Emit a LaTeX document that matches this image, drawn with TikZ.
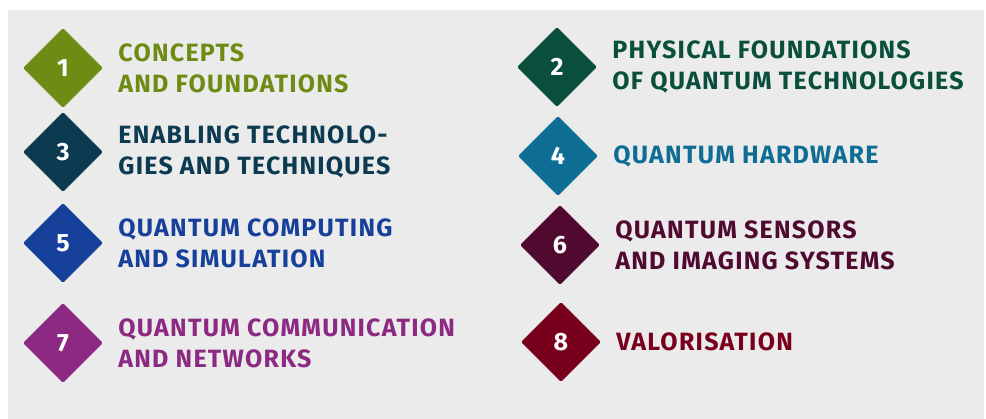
\documentclass[tikz,border=0pt]{standalone}
\usepackage{fontspec}
\setmainfont{Fira Sans}[LetterSpace=5.0]
\usetikzlibrary{shapes.geometric,positioning}

\definecolor{bggray}{HTML}{EBEBEB}
\definecolor{cOne}{HTML}{6E8B13}
\definecolor{cTwo}{HTML}{0A4F3C}
\definecolor{cThree}{HTML}{0B3A51}
\definecolor{cFour}{HTML}{0E6D95}
\definecolor{cFive}{HTML}{17409A}
\definecolor{cSix}{HTML}{500A2F}
\definecolor{cSeven}{HTML}{8C2A83}
\definecolor{cEight}{HTML}{78001C}

\begin{document}
\begin{tikzpicture}[x=1pt,y=-1pt,
  box/.style={diamond,fill=#1,minimum size=80pt,inner sep=0pt,rounded corners=1.5pt,
    text=white,font=\bfseries\fontsize{25}{30}\selectfont},
  topic/.style={text=#1,align=left,inner sep=0pt,
    font=\bfseries\fontsize{25}{31}\selectfont}]
\useasboundingbox (0,0) rectangle (986,419);
\fill[bggray] (8,10) rectangle (984,419);
% left column
\node[box=cOne]   (d1) at (63,68)  {1};
\node[box=cThree] (d3) at (63,152) {3};
\node[box=cFive]  (d5) at (63,243) {5};
\node[box=cSeven] (d7) at (63,343) {7};
% right column
\node[box=cTwo]   (d2) at (557,67)  {2};
\node[box=cFour]  (d4) at (558,156) {4};
\node[box=cSix]   (d6) at (560,245) {6};
\node[box=cEight] (d8) at (561,342) {8};
% labels
\node[topic=cOne,right=15pt of d1]   (t1) {CONCEPTS\\AND FOUNDATIONS};
\node[topic=cThree,right=15pt of d3] (t3) {ENABLING TECHNOLO-\\GIES AND TECHNIQUES};
\node[topic=cFive,right=15pt of d5]  (t5) {QUANTUM COMPUTING\\AND SIMULATION};
\node[topic=cSeven,right=15pt of d7] (t7) {QUANTUM COMMUNICATION\\AND NETWORKS};
\node[topic=cTwo,right=15pt of d2]   (t2) {PHYSICAL FOUNDATIONS\\OF QUANTUM TECHNOLOGIES};
\node[topic=cFour,right=15pt of d4]  (t4) {QUANTUM HARDWARE};
\node[topic=cSix,right=15pt of d6]   (t6) {QUANTUM SENSORS\\AND IMAGING SYSTEMS};
\node[topic=cEight,right=15pt of d8] (t8) {VALORISATION};
\end{tikzpicture}
\end{document}
